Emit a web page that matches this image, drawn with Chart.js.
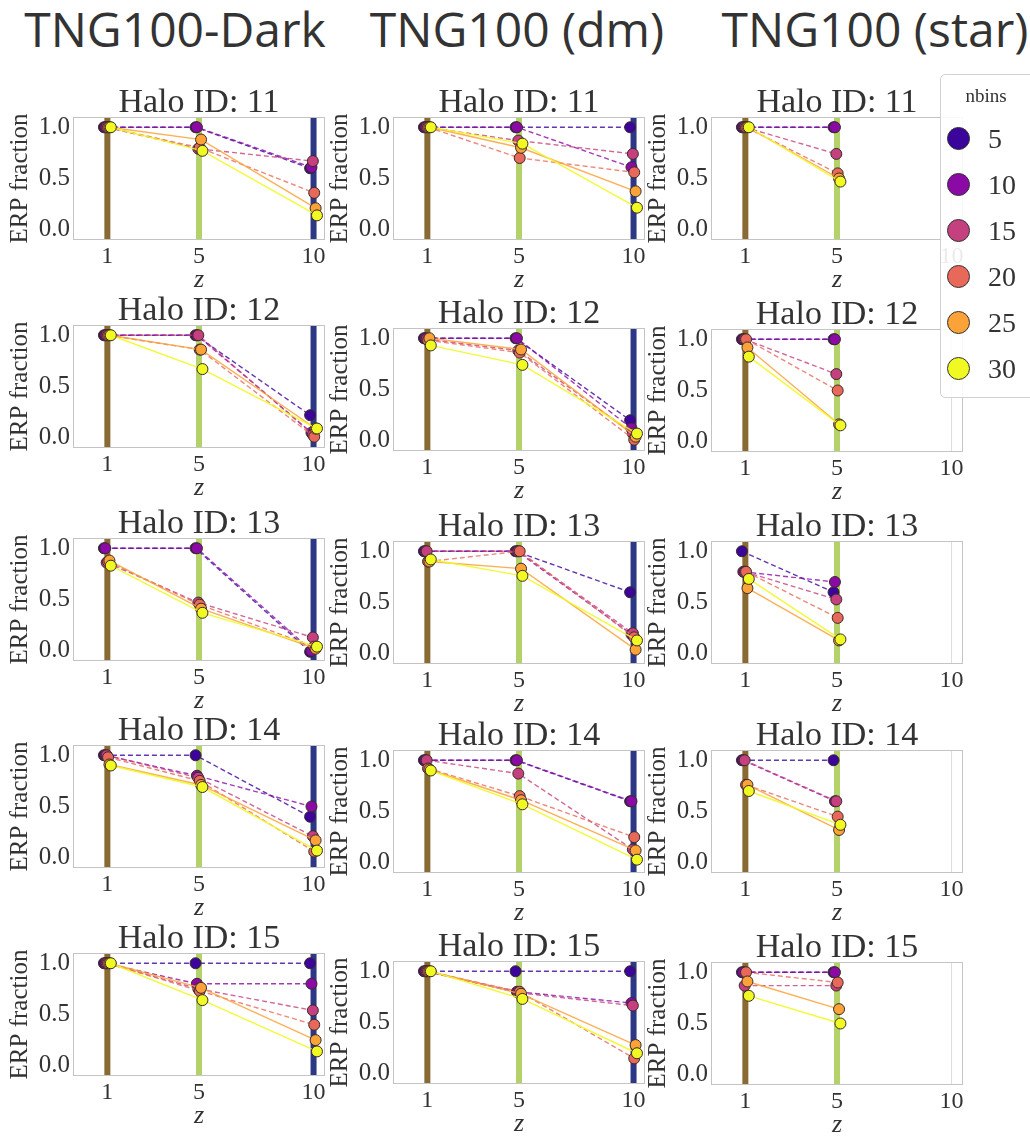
<!DOCTYPE html>
<html lang="en">
<head>
<meta charset="UTF-8">
<title>ERP fraction vs z</title>
<script src="https://cdn.jsdelivr.net/npm/chart.js"></script>
<style>
  body { margin: 0; background: #fff; }
  #page { position: relative; width: 1030px; height: 1138px; overflow: hidden; background: #fff; }
  #page canvas { position: absolute; }
  .simTitle { position: absolute; top: -4px; font-family: 'Open Sans', sans-serif; font-size: 48px; color: #333; transform: translateX(-50%); white-space: nowrap; }
  .legend { position: absolute; left: 940px; top: 74px; width: 110px; height: 324px; box-sizing: border-box;
            border: 1px solid #d2d2d2; border-radius: 5px; background: rgba(255,255,255,0.9);
            font-family: 'Liberation Serif', serif; color: #333; z-index: 5; }
  .lgTitle { position: absolute; left: 0; width: 90px; top: 10px; text-align: center; font-size: 19px; }
  .lgRow { position: absolute; left: 0; width: 100px; height: 46px; line-height: 46px; font-size: 28px; }
  .lgRow .dot { position: absolute; left: 6px; top: 11px; width: 23px; height: 23px; border-radius: 50%; border: 1.5px solid #333; box-sizing: border-box; }
  .lgRow .lab { position: absolute; left: 47px; top: 0; }
</style>
</head>
<body>
<div id="page"></div>
<script>
    // data
    const zValues = [1, 5, 10];
    const zTicks = [1, 5, 10];
    const yTicks = [0, 0.5, 1.0];
    const nbins = [5, 10, 15, 20, 25, 30];
    const jitter = [-0.15, -0.09, -0.03, 0.03, 0.09, 0.15];
    const simNames = ['TNG100-Dark', 'TNG100 (dm)', 'TNG100 (star)'];
    const haloIds = [11, 12, 13, 14, 15];

    // ERP fraction, one row per nbins (5..30), values at z = 1, 5, 10
    const dark11 = [[1, 1, 0.60], [1, 1, 0.61], [1, 0.79, 0.67], [1, 0.80, 0.36], [1, 0.88, 0.21], [1, 0.77, 0.14]];
    const dark12 = [[1, 1, 0.22], [1, 1, 0.05], [1, 1, 0.03], [1, 0.86, 0.01], [1, 0.86, 0.09], [1, 0.67, 0.09]];
    const dark13 = [[1, 1, -0.01], [1, 1, 0.0], [0.86, 0.47, 0.13], [0.87, 0.45, 0.04], [0.88, 0.41, 0.02], [0.83, 0.37, 0.04]];
    const dark14 = [[1, 1, 0.40], [1, 0.80, 0.50], [1, 0.78, 0.21], [0.98, 0.75, 0.06], [0.91, 0.71, 0.17], [0.90, 0.69, 0.07]];
    const dark15 = [[1, 1, 1], [1, 0.80, 0.80], [1, 0.75, 0.54], [1, 0.73, 0.40], [1, 0.76, 0.25], [1, 0.64, 0.14]];

    const dm11 = [[1, 1, 1], [1, 1, 0.61], [1, 0.87, 0.74], [1, 0.70, 0.56], [1, 0.80, 0.375], [1, 0.84, 0.215]];
    const dm12 = [[1, 1, 0.20], [1, 1, 0.12], [0.99, 0.88, 0.07], [0.98, 0.86, 0.01], [1, 0.89, 0.04], [0.93, 0.74, 0.07]];
    const dm13 = [[1, 1, 0.60], [1, 1, 0.19], [1, 1, 0.20], [0.90, 1, 0.16], [0.90, 0.83, 0.04], [0.92, 0.76, 0.13]];
    const dm14 = [[1, 1, 0.60], [1, 1, 0.60], [1, 0.87, 0.13], [0.92, 0.65, 0.25], [0.91, 0.61, 0.12], [0.90, 0.57, 0.03]];
    const dm15 = [[1, 1, 1], [1, 0.80, 0.69], [1, 0.79, 0.665], [1, 0.80, 0.15], [1, 0.78, 0.28], [1, 0.73, 0.20]];

    const star11 = [[1, 1, null], [1, 1, null], [1, 0.74, null], [1, 0.55, null], [1, 0.50, null], [1, 0.47, null]];
    const star12 = [[1, 1, null], [1, 1, null], [1, 0.66, null], [1, 0.50, null], [0.92, 0.17, null], [0.83, 0.16, null]];
    const star13 = [[1, 0.60, null], [0.80, 0.70, null], [0.80, 0.53, null], [0.80, 0.35, null], [0.64, 0.13, null], [0.73, 0.14, null]];
    const star14 = [[1, 1, null], [1, 0.60, null], [1, 0.60, null], [0.76, 0.45, null], [0.76, 0.32, null], [0.70, 0.37, null]];
    const star15 = [[1, 1, null], [1, 1, null], [0.87, 0.87, null], [1, 0.90, null], [0.91, 0.64, null], [0.77, 0.50, null]];

    const erp = [
        [dark11, dark12, dark13, dark14, dark15],
        [dm11, dm12, dm13, dm14, dm15],
        [star11, star12, star13, star14, star15]
    ];

    // styles
    const colors = ['#3b049a', '#8b0aa5', '#c5407e', '#e8685a', '#fba238', '#f0f921'];
    const lineColors = ['rgba(59,4,154,0.8)', 'rgba(139,10,165,0.8)', 'rgba(197,64,126,0.8)', 'rgba(232,104,90,0.8)', 'rgba(251,162,56,0.85)', 'rgba(240,249,33,0.9)'];
    const dashed = [true, true, true, true, false, false];
    const serif = "'Liberation Serif', 'DejaVu Serif', serif";

    const fullBands = [{ z: 1, color: '#8a6a33', w: 6 }, { z: 5, color: '#b3d36a', w: 6 }, { z: 10, color: '#2c3785', w: 6 }];
    const starBands = [{ z: 1, color: '#8a6a33', w: 6 }, { z: 5, color: '#b3d36a', w: 6 }, { z: 10, color: '#dcdcdc', w: 1 }];

    // layout (plot area positions)
    const colLeft = [73, 393, 711];
    const rowTop = [[117, 325, 538, 745, 953], [117, 328, 541, 750, 961], [117, 329, 541, 750, 962]];
    const plotW = 252, plotH = 123;
    const simCenter = [175, 517, 875];

    const page = document.getElementById('page');

    simNames.forEach((name, c) => {
        const d = document.createElement('div');
        d.className = 'simTitle';
        d.style.left = simCenter[c] + 'px';
        d.innerText = name;
        page.appendChild(d);
    });

    // bands + frame behind the data
    const framePlugin = {
        id: 'frame',
        beforeDatasetsDraw(chart, args, opts) {
            const { ctx, chartArea: { left, top, right, bottom }, scales: { x } } = chart;
            ctx.save();
            opts.bands.forEach(b => {
                const px = x.getPixelForValue(b.z);
                ctx.fillStyle = b.color;
                ctx.fillRect(px - b.w / 2, top, b.w, bottom - top);
            });
            ctx.strokeStyle = '#c4c4c4';
            ctx.lineWidth = 1;
            ctx.strokeRect(left + 0.5, top + 0.5, right - left - 1, bottom - top - 1);
            ctx.restore();
        }
    };

    // panel title centred over the plot area
    const panelTitle = {
        id: 'panelTitle',
        afterDraw(chart, args, opts) {
            const { ctx, chartArea } = chart;
            ctx.save();
            ctx.font = '34px ' + serif;
            ctx.fillStyle = '#333';
            ctx.textAlign = 'center';
            ctx.textBaseline = 'alphabetic';
            ctx.fillText(opts.text, (chartArea.left + chartArea.right) / 2, chartArea.top - 5);
            ctx.restore();
        }
    };

    function makePanel(col, row) {
        const vals = erp[col][row];
        const canvas = document.createElement('canvas');
        canvas.width = 73 + plotW + 16;
        canvas.height = 40 + plotH + 56;
        page.appendChild(canvas);

        const datasets = nbins.map((nb, i) => ({
            label: String(nb),
            data: zValues.map((z, k) => ({ x: z + jitter[i], y: vals[i][k] })).filter(p => p.y !== null),
            order: nbins.length - i,
            borderColor: lineColors[i],
            borderWidth: 1.4,
            borderDash: dashed[i] ? [5, 3] : [],
            pointBackgroundColor: colors[i],
            pointBorderColor: '#3a2a2a',
            pointBorderWidth: 1,
            pointRadius: 5.5,
            fill: false,
            tension: 0
        }));

        const chart = new Chart(canvas, {
            type: 'line',
            data: { datasets: datasets },
            options: {
                responsive: false,
                animation: false,
                devicePixelRatio: 1,
                layout: { padding: { left: 0, right: 16, top: 40, bottom: 0 } },
                plugins: {
                    legend: { display: false },
                    tooltip: { enabled: false },
                    title: { display: false },
                    panelTitle: { text: 'Halo ID: ' + haloIds[row] },
                    frame: { bands: col === 2 ? starBands : fullBands }
                },
                scales: {
                    x: {
                        type: 'linear', min: -0.5, max: 10.5,
                        afterBuildTicks: s => { s.ticks = zTicks.map(v => ({ value: v })); },
                        afterFit: s => { s.height = 56; },
                        grid: { display: false, drawTicks: false },
                        border: { display: false },
                        ticks: { font: { family: serif, size: 24 }, color: '#333', padding: 2, maxRotation: 0, autoSkip: false },
                        title: { display: true, text: 'z', font: { family: serif, size: 26, style: 'italic' }, color: '#333', padding: { top: 0, bottom: 0 } }
                    },
                    y: {
                        min: -0.1, max: 1.1,
                        afterBuildTicks: s => { s.ticks = yTicks.map(v => ({ value: v })); },
                        afterFit: s => { s.width = 73; },
                        grid: { display: false, drawTicks: false },
                        border: { display: false },
                        ticks: { font: { family: serif, size: 25 }, color: '#333', padding: 3, callback: v => Number(v).toFixed(1) },
                        title: { display: true, text: 'ERP fraction', font: { family: serif, size: 25 }, color: '#333', padding: { top: 5, bottom: 0 } }
                    }
                }
            },
            plugins: [framePlugin, panelTitle]
        });

        canvas.style.left = (colLeft[col] - chart.chartArea.left) + 'px';
        canvas.style.top = (rowTop[col][row] - chart.chartArea.top) + 'px';
    }

    for (let r = 0; r < haloIds.length; r++) {
        for (let c = 0; c < simNames.length; c++) {
            makePanel(c, r);
        }
    }

    // legend for nbins
    const legend = document.createElement('div');
    legend.className = 'legend';
    let html = '<div class="lgTitle">nbins</div>';
    nbins.forEach((nb, i) => {
        html += '<div class="lgRow" style="top:' + (41 + 46 * i) + 'px"><span class="dot" style="background:' + colors[i] + '"></span><span class="lab">' + nb + '</span></div>';
    });
    legend.innerHTML = html;
    page.appendChild(legend);
</script>
</body>
</html>
